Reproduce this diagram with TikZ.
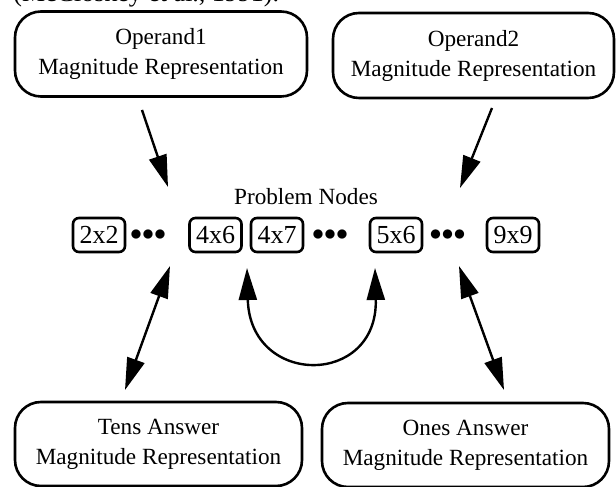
\documentclass[tikz,border=0pt]{standalone}
\usepackage{fontspec}
\setmainfont{Liberation Serif}
\usetikzlibrary{arrows.meta, positioning}

\begin{document}
\begin{tikzpicture}[x=0.5pt, y=0.5pt, >={Triangle[length=16pt, width=9pt]}, magbox/.style={rectangle, draw, line width=1.3pt, rounded corners=13pt, align=center, minimum height=42.5pt, inner sep=0pt, font=\fontsize{11.6}{15}\selectfont}, probbox/.style={rectangle, draw, line width=1.3pt, rounded corners=3pt, minimum width=26pt, minimum height=17pt, inner sep=1pt, font=\fontsize{13}{15}\selectfont}, dotrow/.style={inner sep=0pt, font=\fontsize{12.5}{14}\selectfont}]
\clip (0,0) rectangle (616,487);
\node [anchor=base west, inner sep=0pt, font=\fontsize{13}{15}\selectfont] (cite) at (13,485) {(McCloskey et al., 1991).};
% magnitude representations
\node [magbox, minimum width=146pt] (op1) at (161,433) {Operand1\\Magnitude Representation};
\node [magbox, minimum width=140.5pt] (op2) at (473.5,431.5) {Operand2\\Magnitude Representation};
\node [magbox, minimum width=143.5pt, minimum height=42pt] (tens) at (158.5,43) {Tens Answer\\Magnitude Representation};
\node [magbox, minimum width=143.5pt, minimum height=42pt] (ones) at (465.5,42) {Ones Answer\\Magnitude Representation};
% problem nodes
\node [font=\fontsize{11.6}{14}\selectfont] (probnodes) at (306,290) {Problem Nodes};
\node [probbox] (p22) at (99,252) {2x2};
\node [dotrow, right of=p22, node distance=24.5pt] (etc1) {${\bullet}{\bullet}{\bullet}$};
\node [probbox, right of=etc1, node distance=33.75pt] (p46) {4x6};
\node [probbox, right of=p46, node distance=30.75pt] (p47) {4x7};
\node [dotrow, right of=p47, node distance=26.5pt] (etc2) {${\bullet}{\bullet}{\bullet}$};
\node [probbox, right of=etc2, node distance=33pt] (p56) {5x6};
\node [dotrow, right of=p56, node distance=25.75pt] (etc3) {${\bullet}{\bullet}{\bullet}$};
\node [probbox, right of=etc3, node distance=32.75pt] (p99) {9x9};
% arrow ends
\coordinate (op1out) at (142,377);
\coordinate (op1in) at (168,300);
\coordinate (op2out) at (492,379);
\coordinate (op2in) at (460,299);
\coordinate (tensup) at (170,221);
\coordinate (tensdown) at (125,97);
\coordinate (onesup) at (459,221);
\coordinate (onesdown) at (504,97);
\coordinate (swapl) at (247,219);
\coordinate (swapr) at (375,219);
\draw [->, very thick] (op1out) -- (op1in);
\draw [->, very thick] (op2out) -- (op2in);
\draw [<->, very thick] (tensup) -- (tensdown);
\draw [<->, very thick] (onesup) -- (onesdown);
\draw [<->, very thick] (swapl) .. controls (250,100) and (378,100) .. (swapr);
\end{tikzpicture}
\end{document}
